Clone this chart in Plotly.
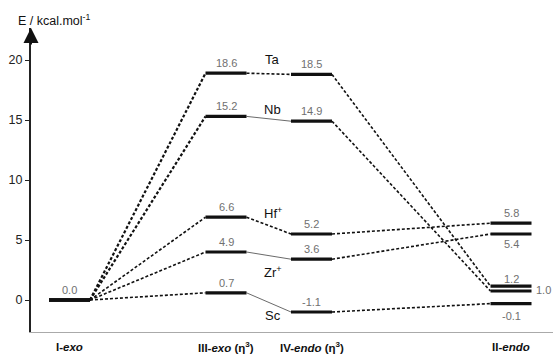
import plotly.graph_objects as go

# ---------------- data ----------------
state_labels = ["<b>I-<i>exo</i></b>",
                "<b>III-<i>exo</i> (η<sup>3</sup>)</b>",
                "<b>IV-<i>endo</i> (η<sup>3</sup>)</b>",
                "<b>II-<i>endo</i></b>"]
species = ["Ta", "Nb", "Hf+", "Zr+", "Sc"]
species_labels = ["Ta", "Nb", "Hf<sup>+</sup>", "Zr<sup>+</sup>", "Sc"]

# energies printed on the diagram (kcal/mol)
energy_Ta = [0.0, 18.6, 18.5, 1.2]
energy_Nb = [0.0, 15.2, 14.9, 1.0]
energy_Hf = [0.0, 6.6, 5.2, 5.8]
energy_Zr = [0.0, 4.9, 3.6, 5.4]
energy_Sc = [0.0, 0.7, -1.1, -0.1]

# heights at which the (schematic) levels are drawn
level_Ta = [0.0, 18.9, 18.8, 1.15]
level_Nb = [0.0, 15.3, 14.9, 0.75]
level_Hf = [0.0, 6.9, 5.5, 6.4]
level_Zr = [0.0, 4.0, 3.4, 5.5]
level_Sc = [0.0, 0.6, -1.0, -0.3]

# connector type between consecutive states (d = dashed, s = solid)
link_Ta = ["d", "d", "d"]
link_Nb = ["d", "s", "d"]
link_Hf = ["d", "d", "d"]
link_Zr = ["d", "s", "d"]
link_Sc = ["d", "s", "d"]

y_ticks = [0, 5, 10, 15, 20]

energies = [energy_Ta, energy_Nb, energy_Hf, energy_Zr, energy_Sc]
levels = [level_Ta, level_Nb, level_Hf, level_Zr, level_Sc]
links = [link_Ta, link_Nb, link_Hf, link_Zr, link_Sc]

# ---------------- layout constants ----------------
col_center = [69.5, 226, 311.5, 511]
half = 20.5
FONT = "Arial, Liberation Sans, sans-serif"

fig = go.Figure()

# connectors
for si, (lv, lk) in enumerate(zip(levels, links)):
    for k in range(3):
        x0 = col_center[k] + half
        x1 = col_center[k + 1] - half
        if lk[k] == "d":
            w = 2.2 if (k == 0 and si < 2) else 1.6
            line = dict(color="#111", width=w, dash="3px,2px")
        else:
            line = dict(color="#444", width=0.8)
        fig.add_trace(go.Scatter(x=[x0, x1], y=[lv[k], lv[k + 1]], mode="lines",
                                 line=line, hoverinfo="skip", showlegend=False))

# levels
for si, lv in enumerate(levels):
    xs, ys = [], []
    for k in range(4):
        xs += [col_center[k] - half, col_center[k] + half, None]
        ys += [lv[k], lv[k], None]
    fig.add_trace(go.Scatter(x=xs, y=ys, mode="lines",
                             line=dict(color="#111", width=3.2),
                             hoverinfo="skip", showlegend=False))

annotations = []
# value labels
special = {(1, 3): dict(xshift=32, yshift=1),      # 1.0 to the right
           (3, 3): dict(yshift=-10),               # 5.4 below
           (4, 3): dict(yshift=-12),               # -0.1 below
           (0, 3): dict(yshift=7)}
for si, (en, lv) in enumerate(zip(energies, levels)):
    for k in range(4):
        if k == 0 and si > 0:
            continue
        pos = dict(xshift=0, yshift=10)
        pos.update(special.get((si, k), {}))
        annotations.append(dict(x=col_center[k], y=lv[k], xref="x", yref="y",
                                text=f"{en[k]:.1f}", showarrow=False,
                                font=dict(family=FONT, size=11, color="#707070"),
                                xanchor="center", yanchor="middle", **pos))

# species labels near the III -> IV connector
sp_shift = [14, 9, 13, -16, -13]
for si, lv in enumerate(levels):
    mid_x = (col_center[1] + col_center[2]) / 2
    mid_y = (lv[1] + lv[2]) / 2
    annotations.append(dict(x=mid_x, y=mid_y, xref="x", yref="y",
                            text=species_labels[si], showarrow=False,
                            font=dict(family=FONT, size=13, color="#111"),
                            xanchor="center", yanchor="middle",
                            xshift=4, yshift=sp_shift[si]))

# state labels
for k, lab in enumerate(state_labels):
    annotations.append(dict(x=col_center[k], y=0, xref="x", yref="paper",
                            text=lab, showarrow=False,
                            font=dict(family=FONT, size=11.5, color="#111"),
                            xanchor="center", yanchor="middle", yshift=-15))

H, W = 355, 553
mt, mb, ml, mr = 28, 23, 31, 0
ph = H - mt - mb
pw = W - ml - mr

# axis title
annotations.append(dict(x=(16 - ml) / pw, y=(H - mb - 20) / ph, xref="paper", yref="paper",
                        text="E / kcal.mol<sup>-1</sup>",
                        showarrow=False, font=dict(family=FONT, size=12.5, color="#111"),
                        xanchor="left", yanchor="middle"))
# arrow head on y axis
annotations.append(dict(x=0, y=1, xref="paper", yref="paper", ax=0, ay=18,
                        axref="pixel", ayref="pixel", text="", showarrow=True,
                        arrowhead=2, arrowsize=1.5, arrowwidth=2, arrowcolor="#111"))

fig.update_layout(
    width=W, height=H,
    margin=dict(l=ml, r=mr, t=mt, b=mb),
    paper_bgcolor="white", plot_bgcolor="white",
    font=dict(family=FONT),
    showlegend=False,
    annotations=annotations,
    xaxis=dict(range=[31, 553], showgrid=False, zeroline=False, showticklabels=False,
               ticks="", showline=True, linecolor="#aaa", linewidth=1, fixedrange=True),
    yaxis=dict(range=[-32 / 12, (300 - mt) / 12], showgrid=False, zeroline=False,
               tickvals=y_ticks, ticktext=[str(t) for t in y_ticks],
               ticks="outside", ticklen=4, tickwidth=1, tickcolor="#222",
               tickfont=dict(family=FONT, size=12.5, color="#222"),
               showline=True, linecolor="#222", linewidth=2, fixedrange=True),
)

fig.write_html("out.html", config={"displayModeBar": False},
               post_script="document.body.style.margin='0px';")
